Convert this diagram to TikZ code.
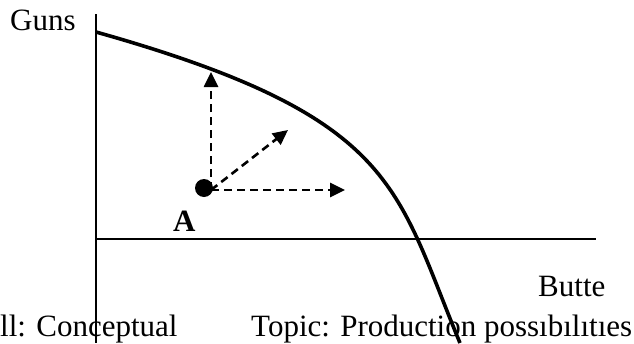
\documentclass[tikz,border=0pt]{standalone}
\usepackage{fontspec}
\setmainfont{Liberation Serif}
\usetikzlibrary{arrows.meta}
\begin{document}
\begin{tikzpicture}[x=1pt,y=-1pt,
  lbl/.style={inner sep=0pt,anchor=base west,font=\fontsize{31}{37}\selectfont},
  axisline/.style={line width=1.6pt},
  ppf/.style={line width=3.6pt},
  move/.style={line width=2.6pt,dash pattern=on 8pt off 5pt,-{Triangle[length=15pt,width=14pt]}},
]
\useasboundingbox (0,0) rectangle (634,343);
\coordinate (ytop) at (96,14);
\coordinate (ybot) at (96,343);
\coordinate (hl) at (96,239);
\coordinate (hr) at (596,239);
\draw[axisline] (ytop) -- (ybot);
\draw[axisline] (hl) -- (hr);
\coordinate (c0) at (96,32);
\coordinate (c3) at (460,343);
\draw[ppf] (c0) .. controls (398,117) and (395,187) .. (c3);
\node[circle,fill,inner sep=0pt,minimum size=18pt] (dotA) at (204,188) {};
\coordinate (O) at (211,190);
\coordinate (up) at (211,72);
\coordinate (diag) at (288,130);
\coordinate (right) at (345,190);
\draw[move] (O) -- (up);
\draw[move] (O) -- (diag);
\draw[move] (O) -- (right);
\node[lbl] (guns) at (10,30) {Guns};
\node[lbl] (butte) at (538,296) {Butte};
\node[lbl,font=\fontsize{31}{37}\selectfont\bfseries] (labA) at (173,231) {A};
\node[lbl] (skill) at (0,336) {ll: Conceptual};
\node[lbl] (topic) at (251,336) {Topic: Production possıbılıtıes};
\end{tikzpicture}
\end{document}
